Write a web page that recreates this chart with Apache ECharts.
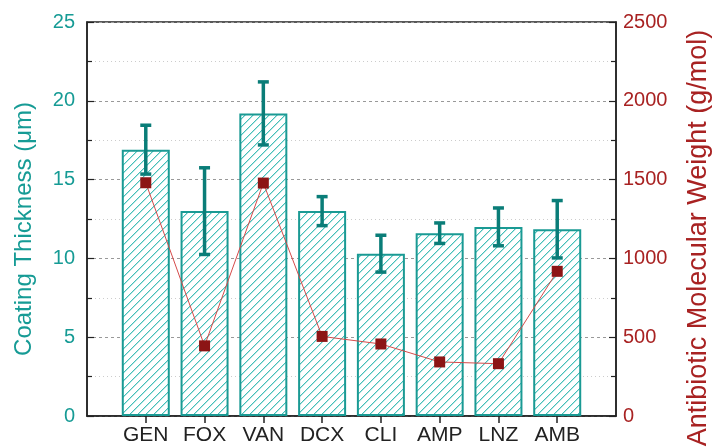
<!DOCTYPE html>
<html><head><meta charset="utf-8">
<script src="https://cdn.jsdelivr.net/npm/echarts@6/dist/echarts.min.js"></script>
<style>html,body{margin:0;padding:0;background:#fff}#c{width:715px;height:448px}</style>
</head><body><div id="c"></div>
<script>
const categories = ['GEN','FOX','VAN','DCX','CLI','AMP','LNZ','AMB'];
const thickness = [16.9, 13.0, 19.2, 13.0, 10.3, 11.6, 12.0, 11.85];
const thicknessErr = [1.55, 2.75, 2.0, 0.92, 1.17, 0.65, 1.2, 1.82];
const molWeight = [1480, 445, 1478, 505, 457, 343, 332, 918];
const leftTicks = [0, 5, 10, 15, 20, 25];
const rightTicks = [0, 500, 1000, 1500, 2000, 2500];

const TEAL = '#169b95', DARKTEAL = '#0a7d78', RED = '#a82222';

// hatch pattern tile, drawn pixel by pixel
const T = 8;
const tile = document.createElement('canvas');
tile.width = T; tile.height = T;
const g = tile.getContext('2d');
g.fillStyle = '#ffffff'; g.fillRect(0, 0, T, T);
for (let i = 0; i < T; i++) {
  g.fillStyle = '#45bfb9';
  g.fillRect(i, T - 1 - i, 1, 1);
  g.fillStyle = '#b5e6e3';
  g.fillRect(i, (T - i) % T, 1, 1);
}

const xCats = [''].concat(categories, ['']);
const pad = a => ['-'].concat(a, ['-']);
const errData = thickness.map((v, i) => [i + 1, v - thicknessErr[i], v + thicknessErr[i]]);

const chart = echarts.init(document.getElementById('c'), null, {renderer: 'canvas'});
chart.setOption({
  animation: false,
  textStyle: {fontFamily: 'Liberation Sans, Arial, sans-serif'},
  grid: {left: 87, right: 99, top: 22, bottom: 32, show: true, borderColor: '#222', borderWidth: 1.5},
  xAxis: {
    type: 'category', data: xCats, boundaryGap: false,
    axisLine: {lineStyle: {color: '#222', width: 1.5}},
    axisTick: {length: 7, lineStyle: {color: '#222', width: 1.5}, interval: (i) => i > 0 && i < xCats.length - 1},
    axisLabel: {interval: 0, fontSize: 21, color: '#222', margin: 9, fontFamily: 'Liberation Sans'},
    splitLine: {show: false}
  },
  yAxis: [{
    type: 'value', min: leftTicks[0], max: leftTicks[leftTicks.length-1], interval: 5,
    axisLine: {show: true, lineStyle: {color: '#222', width: 1.5}},
    axisTick: {show: true, inside: true, length: 7, lineStyle: {color: '#222', width: 1.2}},
    minorTick: {show: true, splitNumber: 2, length: 5, lineStyle: {color: '#222', width: 1.2}},
    axisLabel: {fontSize: 20, color: TEAL, margin: 12, fontFamily: 'Liberation Sans'},
    splitLine: {show: true, lineStyle: {color: '#999', type: [3, 3], width: 1}},
    minorSplitLine: {show: true, lineStyle: {color: '#ccc', type: [1, 3], width: 1}}
  }, {
    type: 'value', position: 'right', min: rightTicks[0], max: rightTicks[rightTicks.length-1], interval: 500,
    axisLine: {show: true, lineStyle: {color: '#222', width: 1.5}},
    axisTick: {show: true, inside: true, length: 7, lineStyle: {color: '#222', width: 1.2}},
    minorTick: {show: true, splitNumber: 2, length: 5, lineStyle: {color: '#222', width: 1.2}},
    axisLabel: {fontSize: 20, color: RED, margin: 7, fontFamily: 'Liberation Sans', formatter: v => String(v)},
    splitLine: {show: false}
  }],
  graphic: [
    {type: 'text', x: 24, y: 229, rotation: Math.PI / 2,
     style: {text: 'Coating Thickness (\u03bcm)', fill: TEAL, font: '24px "Liberation Sans"', align: 'center', verticalAlign: 'middle'}},
    {type: 'text', x: 699, y: 238, rotation: Math.PI / 2,
     style: {text: 'Antibiotic Molecular Weight (g/mol)', fill: RED, font: '27px "Liberation Sans"', align: 'center', verticalAlign: 'middle'}}
  ],
  series: [{
    type: 'bar', data: pad(thickness), barWidth: 48, yAxisIndex: 0, z: 2,
    itemStyle: {color: {image: tile, repeat: 'repeat'}, borderColor: '#1a9a94', borderWidth: 2}
  }, {
    type: 'line', data: pad(molWeight), yAxisIndex: 1, z: 3,
    symbol: 'rect', symbolSize: 11, showSymbol: true,
    lineStyle: {color: '#d54a4a', width: 1},
    itemStyle: {color: '#8c1515'}
  }, {
    type: 'custom', yAxisIndex: 0, z: 4, data: errData,
    renderItem: function (params, api) {
      const x = api.value(0);
      const lo = api.coord([x, api.value(1)]);
      const hi = api.coord([x, api.value(2)]);
      const w = 5.5;
      const st = {stroke: DARKTEAL, lineWidth: 3.5};
      return {type: 'group', children: [
        {type: 'line', shape: {x1: lo[0], y1: lo[1], x2: hi[0], y2: hi[1]}, style: st},
        {type: 'line', shape: {x1: lo[0]-w, y1: lo[1], x2: lo[0]+w, y2: lo[1]}, style: st},
        {type: 'line', shape: {x1: hi[0]-w, y1: hi[1], x2: hi[0]+w, y2: hi[1]}, style: st}
      ]};
    }
  }]
});
</script></body></html>
